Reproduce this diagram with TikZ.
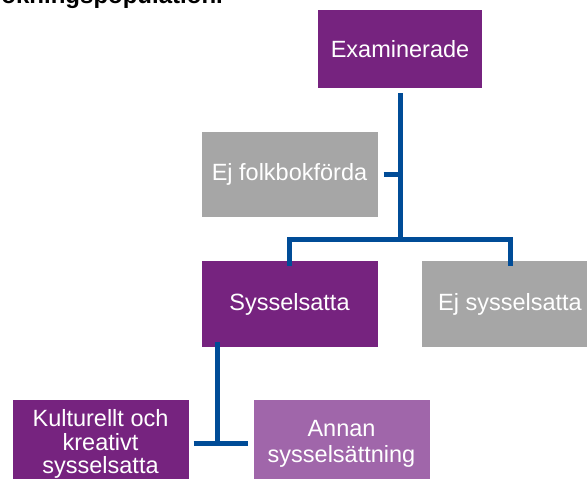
\documentclass[tikz,border=0pt]{standalone}
\usepackage{fontspec}
\setmainfont{Liberation Sans}
\definecolor{purp}{RGB}{118,35,127}
\definecolor{lpurp}{RGB}{160,102,170}
\definecolor{grayb}{RGB}{166,166,166}
\definecolor{conn}{RGB}{0,76,151}
\tikzset{
  box/.style={draw=none, text=white, align=center, inner sep=0pt,
    minimum width=176pt, minimum height=85pt,
    font=\fontsize{23.5}{26}\selectfont},
  pbox/.style={box, fill=purp},
  gbox/.style={box, fill=grayb},
  lbox/.style={box, fill=lpurp},
  link/.style={draw=conn, line width=5pt},
}
\begin{document}
\begin{tikzpicture}[x=1pt,y=-1pt]
\useasboundingbox (0,0) rectangle (587,479);
\node[anchor=base east, font=\bfseries\fontsize{24}{26}\selectfont, inner sep=0pt] (title) at (223,3) {ökningspopulation.};
\node[pbox, minimum width=164pt, minimum height=78pt] (exam) at (400,49) {Examinerade};
\node[gbox] (folk) at (289.5,174.5) {Ej folkbokförda};
\node[pbox, minimum height=86pt] (syss) at (289.5,304) {Sysselsatta};
\node[gbox, minimum height=86pt] (ejsyss) at (510,304) {Ej sysselsatta};
\node[pbox, minimum height=88pt, font=\fontsize{23.5}{23.3}\selectfont] (kult) at (100.5,444) {Kulturellt och\\kreativt\\sysselsatta};
\node[lbox, minimum height=88pt] (annan) at (341.5,444) {Annan\\sysselsättning};
\coordinate (j1) at (400,239);
\coordinate (j2) at (217,443);
\draw[link] ([yshift=-5pt]exam.south) -- (j1);
\draw[link] ([xshift=6pt]folk.east) -- (folk.east -| j1);
\draw[link] ([yshift=-5pt]syss.north) -- (syss.north |- j1) -- (ejsyss.north |- j1) -- ([yshift=-5pt]ejsyss.north);
\draw[link] ([yshift=5pt]syss.south -| j2) -- (j2);
\draw[link] ([xshift=5pt]kult.east |- j2) -- ([xshift=-5pt]annan.west |- j2);
\end{tikzpicture}
\end{document}
